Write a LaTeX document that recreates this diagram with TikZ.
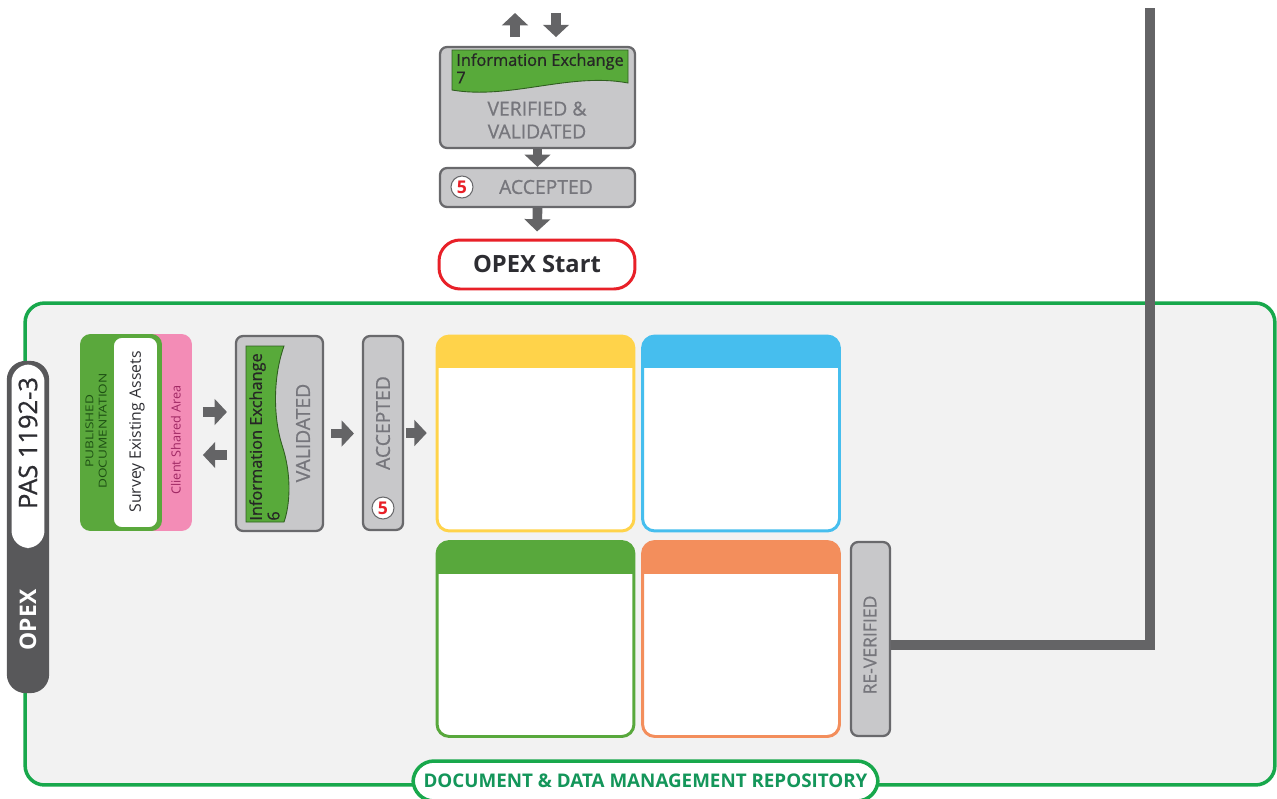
\documentclass[tikz,border=0pt]{standalone}
\usepackage{fontspec}
\setmainfont{Open Sans}
\newfontfamily\semibold[FakeBold=0.8]{Open Sans}
\usepackage{graphicx}
\usepackage{xcolor}
\usepackage{tikz}
\usetikzlibrary{arrows.meta,positioning,calc}

\definecolor{repogreen}{RGB}{24,168,76}
\definecolor{panelgrey}{RGB}{242,242,242}
\definecolor{boxgrey}{RGB}{200,200,202}
\definecolor{boxedge}{RGB}{105,105,108}
\definecolor{boxtextgrey}{RGB}{118,118,124}
\definecolor{arrgrey}{RGB}{100,100,102}
\definecolor{bannergreen}{RGB}{88,170,58}
\definecolor{clientpink}{RGB}{243,140,182}
\definecolor{clienttext}{RGB}{160,40,100}
\definecolor{pubgreen}{RGB}{90,168,60}
\definecolor{pubtext}{RGB}{30,80,20}
\definecolor{cardyellow}{RGB}{255,211,74}
\definecolor{cardblue}{RGB}{70,190,238}
\definecolor{cardgreen}{RGB}{88,168,60}
\definecolor{cardorange}{RGB}{243,142,92}
\definecolor{startred}{RGB}{232,32,40}
\definecolor{tabdark}{RGB}{88,88,90}
\definecolor{darktext}{RGB}{45,45,50}
\definecolor{labelgreen}{RGB}{20,150,90}

\begin{document}
\begin{tikzpicture}[x=0.02cm, y=-0.02cm,
    greybox/.style={draw=boxedge, fill=boxgrey, line width=1.3pt, rounded corners=4pt, inner sep=0pt},
    boxtext/.style={text=boxtextgrey, font=\semibold\fontsize{11}{13}\selectfont, align=center, inner sep=0pt},
    ietext/.style={font=\semibold\fontsize{9.3}{10}\selectfont, align=left, inner sep=0pt, text=black!85},
    banner/.style={fill=bannergreen, draw=bannergreen!55!black, line width=0.5pt},
    blockarr/.style={-{Triangle[length=7pt,width=14.5pt]}, line width=5.5pt, draw=arrgrey},
    numdot/.style={circle, draw=boxedge, fill=white, line width=0.6pt, inner sep=0pt, minimum size=0.44cm, text=startred, font=\bfseries\fontsize{10}{10}\selectfont},
    card/.style={draw=#1, fill=white, line width=1.7pt, rounded corners=7pt, minimum width=3.94cm, minimum height=3.9cm, inner sep=0pt,
        path picture={\fill[#1, sharp corners] (path picture bounding box.north west) rectangle ([yshift=-0.64cm]path picture bounding box.north east);}}
]
    \useasboundingbox[fill=white] (0,0) rectangle (1277,798);

    % repository panel
    \node[draw=repogreen, fill=panelgrey, line width=2pt, rounded corners=11pt, minimum width=25cm, minimum height=9.64cm, inner sep=0pt] (repo) at (650,544) {};

    % top column
    \node[greybox, minimum width=3.9cm, minimum height=2.02cm] (vv) at (537.5,97.5) {};
    \path[banner] (452,50) -- (628,50) -- (628,83) .. controls (570,72) and (510,100) .. (452,90) -- cycle;
    \node[ietext, anchor=north west] (ie7) at (456,53) {Information Exchange\\7};
    \node[boxtext] (vvtext) at (537,120) {VERIFIED \&\\VALIDATED};

    \node[greybox, minimum width=3.9cm, minimum height=0.78cm] (acc7) at (537.5,187.5) {};
    \node[boxtext] (acc7text) at (546,187) {ACCEPTED};
    \node[numdot] (num7) at (462,187) {5};

    \node[draw=startred, fill=white, line width=1.7pt, rounded corners=12pt, minimum width=3.92cm, minimum height=0.98cm, text=darktext, font=\bfseries\fontsize{13.5}{15}\selectfont] (start) at (537,264.5) {OPEX Start};

    \coordinate (outtop) at (515,13);
    \coordinate (intop) at (556,13);
    \draw[blockarr, shorten <=5pt] (vv.north -| outtop) -- (outtop);
    \draw[blockarr, shorten >=5pt] (intop) -- (vv.north -| intop);
    \draw[blockarr] (vv.south) -- (acc7.north);
    \draw[blockarr, shorten >=4pt] (acc7.south) -- (start.north);

    % side tab
    \node[draw=tabdark, fill=tabdark, line width=1.3pt, rounded corners=10pt, minimum width=0.8cm, minimum height=6.6cm, inner sep=0pt,
        path picture={\fill[white] ([xshift=0.07cm, yshift=-0.05cm]path picture bounding box.north west) rectangle ([xshift=-0.07cm, yshift=-3.72cm]path picture bounding box.north east);}] (tab) at (28,527) {};
    \node[rotate=90, text=darktext, font=\semibold\fontsize{14.5}{15}\selectfont] (pas) at (28,443) {PAS 1192-3};
    \node[rotate=90, text=white, font=\bfseries\fontsize{13}{14}\selectfont] (opex) at (28,620) {OPEX};

    % published documentation stack
    \node[fill=clientpink, rounded corners=6pt, minimum width=1.04cm, minimum height=3.94cm, inner sep=0pt] (client) at (166,432.5) {};
    \node[fill=pubgreen, rounded corners=6pt, minimum width=1.64cm, minimum height=3.94cm, inner sep=0pt] (pub) at (121,432.5) {};
    \node[draw=pubgreen, fill=white, line width=1pt, rounded corners=5pt, minimum width=0.9cm, minimum height=3.82cm, inner sep=0pt] (survey) at (135.5,432.5) {};
    \node[rotate=90, text=pubtext, inner sep=0pt, font=\fontsize{6.2}{6.2}\selectfont] (pubtxt) at (96,431) {\scalebox{1.25}[1]{\shortstack{PUBLISHED\\DOCUMENTATION}}};
    \node[rotate=90, text=darktext, inner sep=0pt, font=\fontsize{9}{10}\selectfont] (surveytxt) at (137,432) {Survey Existing Assets};
    \node[rotate=90, text=clienttext, inner sep=0pt, font=\fontsize{7.2}{8}\selectfont] (clienttxt) at (176,440) {Client Shared Area};

    % validated / accepted
    \node[greybox, minimum width=1.74cm, minimum height=3.9cm] (val) at (279.5,433.5) {};
    \path[banner] (246,346) -- (246,522) -- (284,522) .. controls (290,505) and (292,475) .. (282,445) .. controls (274,420) and (272,380) .. (284,346) -- cycle;
    \node[ietext, rotate=90, anchor=north west] (ie6) at (249,521) {Information Exchange\\6};
    \node[boxtext, rotate=90] (valtext) at (303,433) {VALIDATED};

    \node[greybox, minimum width=0.8cm, minimum height=3.88cm] (acc6) at (383,433) {};
    \node[boxtext, rotate=90] (acc6text) at (383,423) {ACCEPTED};
    \node[numdot] (num6) at (383,508) {5};

    % cards
    \node[card=cardyellow] (yellow) at (535.5,433.5) {};
    \node[card=cardblue] (blue) at (741,433.5) {};
    \node[card=cardgreen] (green) at (535.5,639) {};
    \node[card=cardorange] (orange) at (741,639) {};

    \node[greybox, minimum width=0.78cm, minimum height=3.88cm] (rever) at (870.5,639) {};
    \node[boxtext, rotate=90, font=\semibold\fontsize{10}{11}\selectfont] (revertext) at (870,645) {RE-VERIFIED};

    % feedback line
    \coordinate (feed) at (1150,8);
    \draw[arrgrey, line width=5.7pt] (feed) |- ([yshift=-0.12cm]rever.east);

    \draw[blockarr, shorten <=6pt, shorten >=4.5pt] ([yshift=0.41cm]client.east) -- ([yshift=0.41cm]client.east -| val.west);
    \draw[blockarr, shorten <=4.5pt, shorten >=6pt] ([yshift=-0.45cm]client.east -| val.west) -- ([yshift=-0.45cm]client.east);
    \draw[blockarr, shorten <=4pt, shorten >=4.5pt] (val.east) -- (val.east -| acc6.west);
    \draw[blockarr, shorten <=1pt, shorten >=5pt] (acc6.east) -- (acc6.east -| yellow.west);

    % repository label
    \node[draw=repogreen, fill=white, line width=2pt, rounded corners=12pt, minimum width=9.3cm, minimum height=0.8cm, text=labelgreen, font=\bfseries\fontsize{10.7}{12}\selectfont] (repolabel) at (645.5,781) {DOCUMENT \& DATA MANAGEMENT REPOSITORY};
\end{tikzpicture}
\end{document}
